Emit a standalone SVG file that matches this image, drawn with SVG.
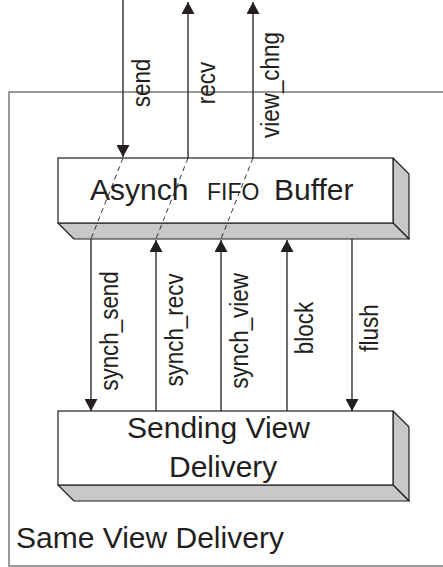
<svg xmlns="http://www.w3.org/2000/svg" width="443" height="567" viewBox="0 0 443 567">
<style>
.t{font-family:"Liberation Sans",Arial,sans-serif;fill:#231f20}
.lbl{font-size:22.4px;text-anchor:middle}
.big{font-size:30px}
.c{stroke:#231f20;stroke-width:1.3;fill:none}
.d{stroke:#231f20;stroke-width:0.9;fill:none;stroke-dasharray:5 4}
.face{fill:#fff;stroke:#231f20;stroke-width:1.2}
.side{fill:#c8c8c8;stroke:#231f20;stroke-width:1.2;stroke-linejoin:round}
</style>
<defs>
<marker id="ah" viewBox="0 0 12 13" refX="12" refY="6.5" markerWidth="12" markerHeight="13" markerUnits="userSpaceOnUse" orient="auto">
<path d="M0,0 L12,6.5 L0,13 Z" fill="#231f20"/>
</marker>
</defs>
<rect width="443" height="567" fill="#fff"/>
<g id="same-view-delivery">
<path d="M443,92 H9 V566 H443" fill="none" stroke="#7a7a7a" stroke-width="1.5"/>
<text class="t" x="16" y="548" font-size="30">Same View Delivery</text>
</g>
<g id="asynch-fifo-buffer">
<path class="side" d="M393,158 L409,174 L409,239 L393,223 Z"/>
<path class="side" d="M58,223 L393,223 L409,239 L74,239 Z"/>
<rect class="face" x="58" y="158" width="335" height="65"/>
<text class="t" y="200"><tspan class="big" x="90">Asynch</tspan><tspan font-size="23" x="207">FIFO</tspan><tspan class="big" x="274">Buffer</tspan></text>
</g>
<g id="sending-view-delivery">
<path class="side" d="M393,411 L409,427 L409,501 L393,485 Z"/>
<path class="side" d="M58,485 L393,485 L409,501 L74,501 Z"/>
<rect class="face" x="58" y="411" width="335" height="74"/>
<text class="t big" x="127" y="438">Sending View</text>
<text class="t big" x="169" y="477">Delivery</text>
</g>
<g id="connectors">
<line class="c" x1="123" y1="0" x2="123" y2="157" marker-end="url(#ah)"/>
<line class="c" x1="188" y1="158" x2="188" y2="2" marker-end="url(#ah)"/>
<line class="c" x1="253" y1="158" x2="253" y2="2" marker-end="url(#ah)"/>
<line class="d" x1="123" y1="158" x2="91" y2="239"/>
<line class="d" x1="188" y1="158" x2="156" y2="239"/>
<line class="d" x1="253" y1="158" x2="221" y2="239"/>
<line class="c" x1="91" y1="239" x2="91" y2="411" marker-end="url(#ah)"/>
<line class="c" x1="156" y1="411" x2="156" y2="240" marker-end="url(#ah)"/>
<line class="c" x1="221" y1="411" x2="221" y2="240" marker-end="url(#ah)"/>
<line class="c" x1="287" y1="411" x2="287" y2="240" marker-end="url(#ah)"/>
<line class="c" x1="352" y1="239" x2="352" y2="411" marker-end="url(#ah)"/>
<text class="t lbl" transform="translate(150,83) rotate(-90) scale(1,1.17)">send</text>
<text class="t lbl" transform="translate(215,83) rotate(-90) scale(1,1.17)">recv</text>
<text class="t lbl" transform="translate(279,85) rotate(-90) scale(1,1.17)">view_chng</text>
<text class="t lbl" transform="translate(118,331) rotate(-90) scale(1,1.17)">synch_send</text>
<text class="t lbl" transform="translate(183,330) rotate(-90) scale(1,1.17)">synch_recv</text>
<text class="t lbl" transform="translate(248,331) rotate(-90) scale(1,1.17)">synch_view</text>
<text class="t lbl" transform="translate(313,328) rotate(-90) scale(1,1.17)">block</text>
<text class="t lbl" transform="translate(378,328) rotate(-90) scale(1,1.17)">flush</text>
</g>
</svg>
